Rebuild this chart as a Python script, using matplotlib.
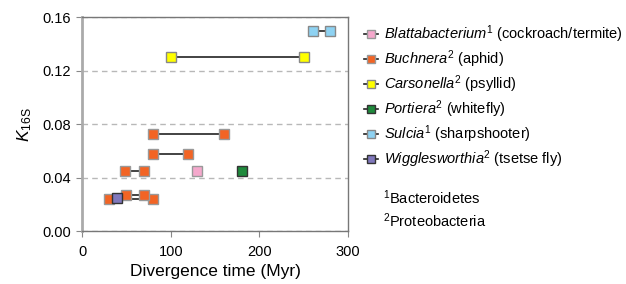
import numpy as np
import matplotlib

matplotlib.use('Agg')
import matplotlib.pyplot as plt

plt.rcParams['font.family'] = ['Liberation Sans', 'DejaVu Sans']
plt.rcParams['mathtext.fontset'] = 'custom'
plt.rcParams['mathtext.rm'] = 'Liberation Sans'
plt.rcParams['mathtext.it'] = 'Liberation Sans:italic'

# each series: list of segments (x values in Myr, K16S values)
blatta_x = [[130]]
blatta_y = [[0.045]]
buchnera_x = [[30, 80], [50, 70], [48, 70], [80, 120], [80, 160]]
buchnera_y = [[0.024, 0.024], [0.027, 0.027], [0.045, 0.045], [0.058, 0.058], [0.073, 0.073]]
carsonella_x = [[100, 250]]
carsonella_y = [[0.130, 0.130]]
portiera_x = [[180]]
portiera_y = [[0.045]]
sulcia_x = [[260, 280]]
sulcia_y = [[0.150, 0.150]]
wiggles_x = [[40]]
wiggles_y = [[0.025]]

labels = [r'$\mathit{Blattabacterium}^{1}$ (cockroach/termite)',
          r'$\mathit{Buchnera}^{2}$ (aphid)',
          r'$\mathit{Carsonella}^{2}$ (psyllid)',
          r'$\mathit{Portiera}^{2}$ (whitefly)',
          r'$\mathit{Sulcia}^{1}$ (sharpshooter)',
          r'$\mathit{Wigglesworthia}^{2}$ (tsetse fly)']

series = [(blatta_x, blatta_y, '#f5a8cc', '#999999'),
          (buchnera_x, buchnera_y, '#f26424', '#999999'),
          (carsonella_x, carsonella_y, '#ffff00', '#888888'),
          (portiera_x, portiera_y, '#1f8a3c', '#333333'),
          (sulcia_x, sulcia_y, '#8ed2f2', '#888888'),
          (wiggles_x, wiggles_y, '#8078bc', '#333333')]

fig = plt.figure(figsize=(6.26, 2.84), dpi=100)
ax = fig.add_axes([0.131, 0.185, 0.425, 0.754])

handles = []
for i, (xs, ys, fc, ec) in enumerate(series):
    for j, (x, y) in enumerate(zip(xs, ys)):
        h, = ax.plot(x, y, '-s', color='#222222', lw=1.2, ms=6.5,
                     mfc=fc, mec=ec, mew=1.0, zorder=3 + (i == 5))
        if j == 0:
            handles.append(h)

ax.set_xlim(0, 300)
ax.set_ylim(0, 0.16)
ax.set_xticks([0, 100, 200, 300])
ax.set_yticks([0, 0.04, 0.08, 0.12, 0.16])
ax.set_yticklabels(['%.2f' % v for v in [0, 0.04, 0.08, 0.12, 0.16]])
ax.yaxis.grid(True, ls=(0, (4, 3)), color='#b8b8b8', lw=1.0)
ax.set_axisbelow(True)

for s in ['top', 'right', 'bottom']:
    ax.spines[s].set_color('#777777')
    ax.spines[s].set_linewidth(1.0)
ax.spines['left'].set_color('#aaaaaa')
ax.spines['left'].set_linewidth(2.0)
ax.tick_params(axis='both', labelsize=10.5, color='#888888', length=4, direction='out')
ax.tick_params(axis='x', pad=6)
ax.tick_params(axis='y', pad=4)

ax.set_xlabel('Divergence time (Myr)', fontsize=12.5, labelpad=3)
ax.set_ylabel(r'$K_{\mathrm{16S}}$', fontsize=12.5, labelpad=6)

fig.legend(handles, labels, loc='upper left', bbox_to_anchor=(0.581, 0.918),
           frameon=False, fontsize=10.5, handlelength=1.0, handletextpad=0.4,
           labelspacing=0.24, borderaxespad=0, borderpad=0, markerscale=0.85)

fig.text(0.6125, 0.305, r'$^{1}$Bacteroidetes', fontsize=10.5, va='center')
fig.text(0.6125, 0.222, r'$^{2}$Proteobacteria', fontsize=10.5, va='center')

plt.savefig('out.png', dpi=100)
